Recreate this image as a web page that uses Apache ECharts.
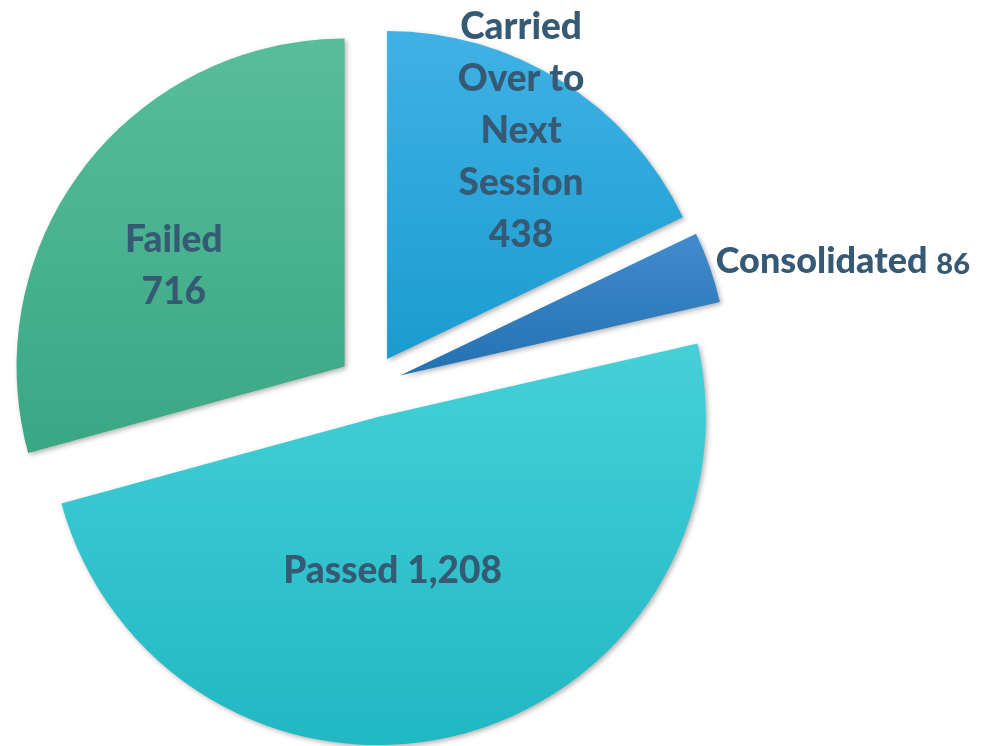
<!DOCTYPE html>
<html>
<head>
<meta charset="utf-8">
<script src="https://cdn.jsdelivr.net/npm/echarts@6/dist/echarts.min.js"></script>
<style>
  html, body { margin: 0; padding: 0; background: #fff; }
  #chart { width: 1001px; height: 746px; }
</style>
</head>
<body>
<div id="chart"></div>
<script>
// 数据
const categories = ["Carried\nOver to\nNext\nSession", "Consolidated", "Passed", "Failed"];
const values = [438, 86, 1208, 716];

// 渐变色 (top, bottom)
const colorsTop = ["#40b1e5", "#428bcc", "#46d0d8", "#58bd9b"];
const colorsBottom = ["#1a9cd1", "#2471b1", "#20b8c3", "#3aa784"];
// label nudges
const labelShift = [[45, -87], [285, -59], [-26, -8], [-38, 1]];

const chartDom = document.getElementById("chart");
const myChart = echarts.init(chartDom);

const fmt = v => v.toLocaleString("en-US");

const option = {
  animation: false,
  series: [
    {
      type: "pie",
      center: [370, 386],
      radius: [0, 328],
      startAngle: 90,
      clockwise: true,
      selectedMode: "multiple",
      selectedOffset: 32,
      emphasis: { disabled: true },
      labelLine: { show: false },
      label: {
        show: true,
        position: "inside",
        fontFamily: "Lato",
        fontWeight: 900,
        fontSize: 37,
        lineHeight: 52,
        color: "#365a74",
        formatter: p => p.dataIndex === 1
          ? "{a|" + p.name + "} {b|" + fmt(p.value) + "}"
          : (p.dataIndex === 2 ? p.name + " " + fmt(p.value) : p.name + "\n" + fmt(p.value)),
        rich: {
          a: { fontFamily: "Lato", fontWeight: 900, fontSize: 36, color: "#365a74" },
          b: { fontFamily: "Lato", fontWeight: 900, fontSize: 29, color: "#365a74", padding: [6, 0, 0, 0] }
        }
      },
      labelLayout: p => ({ dx: labelShift[p.dataIndex][0], dy: labelShift[p.dataIndex][1] }),
      data: categories.map((name, i) => ({
        name: name,
        value: values[i],
        selected: true,
        itemStyle: {
          color: new echarts.graphic.LinearGradient(0, 0, 0, 1, [
            { offset: 0, color: colorsTop[i] },
            { offset: 1, color: colorsBottom[i] }
          ]),
          shadowBlur: 5,
          shadowOffsetX: 2,
          shadowOffsetY: 2,
          shadowColor: "rgba(0,0,0,0.3)"
        }
      }))
    }
  ]
};
option && myChart.setOption(option);
</script>
</body>
</html>
